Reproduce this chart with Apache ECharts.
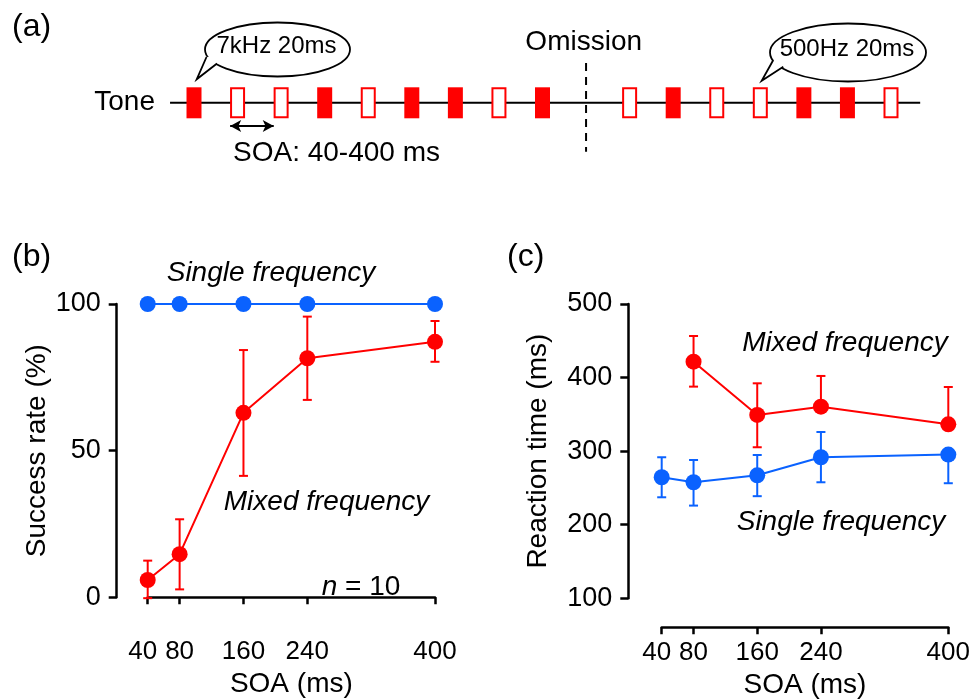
<!DOCTYPE html>
<html>
<head>
<meta charset="utf-8">
<script src="https://cdn.jsdelivr.net/npm/echarts@6/dist/echarts.min.js"></script>
<style>
  html, body { margin: 0; padding: 0; background: #fff; }
  #main { width: 974px; height: 700px; }
</style>
</head>
<body>
<div id="main"></div>
<script>
// panel (a): tone train, 1 = filled, 0 = open, null = omission
const toneKinds = [1, 0, 0, 1, 0, 1, 1, 0, 1, null, 0, 1, 0, 0, 1, 1, 0];
const toneLine = [[-0.55, 0.5], [16.67, 0.5]];
const omissionLine = [[9, 1.78], [9, -1.08]];
const soaArrow = [[0.83, -0.25], [1.83, -0.25]];

// panels (b) and (c)
const soa = [40, 80, 160, 240, 400];
const succTicks = [0, 50, 100];
const rtTicks = [100, 200, 300, 400, 500];

const succSingle = [100, 100, 100, 100, 100];
const succMixed = [5.9, 14.7, 62.9, 81.5, 87.1];
const succMixedLo = [-0.3, 2.7, 41.4, 67.3, 80.3];
const succMixedHi = [12.5, 26.6, 84.3, 95.7, 94.2];

const rtMixed = [null, 421.6, 349.2, 360.5, 336.5];
const rtMixedLo = [null, 387.7, 305.3, null, null];
const rtMixedHi = [null, 456.5, 392.2, 402.2, 387.2];
const rtSingle = [264.5, 257.7, 267.2, 291.7, 295.3];
const rtSingleLo = [237.3, 226, 238.8, 257.7, 256.4];
const rtSingleHi = [291.7, 288, 294.8, 326, null];

const RED = '#ff0000';
const BLUE = '#0a62ff';
const FONT = '"Liberation Sans", Arial, sans-serif';
const FS = 28;   // titles, names
const TS = 26;   // tick labels

var chart = echarts.init(document.getElementById('main'), null, { renderer: 'canvas' });

function errorBars(gi, mean, lo, hi, color) {
  var rows = [];
  soa.forEach(function (x, i) {
    if (mean[i] != null) rows.push([x, mean[i], lo[i], hi[i]]);
  });
  return {
    type: 'custom',
    xAxisIndex: gi, yAxisIndex: gi,
    z: 1, silent: true,
    data: rows.map(function (r) { return [r[0], r[1]]; }),
    renderItem: function (params, api) {
      var r = rows[params.dataIndex];
      var c = api.coord([r[0], r[1]]);
      var kids = [];
      [r[2], r[3]].forEach(function (b) {
        if (b == null) return;
        var p = api.coord([r[0], b]);
        kids.push({ type: 'line', shape: { x1: c[0], y1: c[1], x2: p[0], y2: p[1] },
          style: { stroke: color, lineWidth: 2 } });
        kids.push({ type: 'line', shape: { x1: p[0] - 4.5, y1: p[1], x2: p[0] + 4.5, y2: p[1] },
          style: { stroke: color, lineWidth: 2 } });
      });
      return { type: 'group', children: kids };
    }
  };
}

function lineSeries(gi, vals, color) {
  return {
    type: 'line',
    xAxisIndex: gi, yAxisIndex: gi,
    data: soa.map(function (x, i) { return [x, vals[i]]; }),
    symbol: 'circle', symbolSize: 16,
    lineStyle: { color: color, width: 2 },
    itemStyle: { color: color },
    clip: false, silent: true, z: 3
  };
}

function xAxisCfg(gi) {
  return {
    gridIndex: gi, type: 'value', min: 40, max: 400,
    offset: 29,
    name: 'SOA (ms)', nameLocation: 'middle', nameGap: 44,
    nameTextStyle: { fontFamily: FONT, fontSize: FS, color: '#000' },
    axisLine: { lineStyle: { color: '#000', width: 2.5 } },
    axisTick: { length: 7, lineStyle: { color: '#000', width: 2.5 }, customValues: soa },
    axisLabel: {
      fontFamily: FONT, fontSize: TS, color: '#000', margin: 13, customValues: soa,
      // the first label sits a little left of its tick, as in the figure
      formatter: function (v) { return v === soa[0] ? '{f|' + v + '}' : String(v); },
      rich: { f: { fontFamily: FONT, fontSize: TS, color: '#000', padding: [0, 10, 0, 0] } }
    },
    splitLine: { show: false }
  };
}

function yAxisCfg(gi, min, max, interval, name, gap, off) {
  return {
    gridIndex: gi, type: 'value', min: min, max: max, interval: interval,
    offset: off,
    name: name, nameLocation: 'middle', nameGap: gap, nameRotate: 90,
    nameTextStyle: { fontFamily: FONT, fontSize: FS, color: '#000' },
    axisLine: { show: true, lineStyle: { color: '#000', width: 2.5 } },
    axisTick: { show: true, length: 8, lineStyle: { color: '#000', width: 2.5 } },
    axisLabel: { fontFamily: FONT, fontSize: TS + 1, color: '#000', margin: 16 },
    splitLine: { show: false }
  };
}

function txt(x, y, s, size, opt) {
  opt = opt || {};
  return {
    type: 'text', silent: true, z: 10,
    style: {
      x: x, y: y, text: s,
      font: (opt.italic ? 'italic ' : '') + size + 'px ' + FONT,
      fill: '#000',
      align: opt.align || 'left', textAlign: opt.align || 'left',
      verticalAlign: 'middle', textVerticalAlign: 'middle',
      rich: opt.rich
    }
  };
}

function bubble(cx, cy, rx, ry, b1, tip, b2, label) {
  var inner = [cx - rx * 0.55, cy + ry * 0.2];
  return [
    { type: 'ellipse', silent: true, z: 8, shape: { cx: cx, cy: cy, rx: rx, ry: ry },
      style: { fill: '#fff', stroke: '#000', lineWidth: 1.8 } },
    { type: 'polygon', silent: true, z: 9, shape: { points: [b1, tip, b2, inner] },
      style: { fill: '#fff', stroke: null } },
    { type: 'polyline', silent: true, z: 9, shape: { points: [b1, tip, b2] },
      style: { stroke: '#000', lineWidth: 1.8, fill: null } },
    txt(cx - 1, cy - 3, label, 24, { align: 'center' })
  ];
}

var option = {
  animation: false,
  backgroundColor: '#fff',
  grid: [
    // x: -1..17 (43.56 px per tone slot), y: -1.5..2 (31 px per unit)
    { left: 150.44, right: 39.44, top: 56.3, bottom: 535.2, outerBoundsMode: 'none' },
    { left: 147.7, right: 539, top: 304, bottom: 102.7, outerBoundsMode: 'none' },
    { left: 661.7, right: 25.7, top: 304, bottom: 101.7, outerBoundsMode: 'none' }
  ],
  xAxis: [
    { gridIndex: 0, type: 'value', min: -1, max: 17, show: false },
    xAxisCfg(1),
    xAxisCfg(2)
  ],
  yAxis: [
    { gridIndex: 0, type: 'value', min: -1.5, max: 2, show: false },
    yAxisCfg(1, 0, 100, 50, 'Success rate (%)', 63, 31),
    yAxisCfg(2, 100, 500, 100, 'Reaction time (ms)', 76, 33.4)
  ],
  series: [
    {
      type: 'line', xAxisIndex: 0, yAxisIndex: 0,
      data: toneLine, symbol: 'none', clip: false, silent: true, z: 1,
      lineStyle: { color: '#000', width: 2 },
      markLine: {
        silent: true, symbol: ['arrow', 'arrow'], symbolSize: [9, 11],
        label: { show: false },
        lineStyle: { color: '#000', width: 2, type: 'solid' },
        emphasis: { disabled: true },
        data: [[{ coord: soaArrow[0] }, { coord: soaArrow[1] }]]
      }
    },
    {
      type: 'line', xAxisIndex: 0, yAxisIndex: 0,
      data: omissionLine, symbol: 'none', clip: false, silent: true, z: 1,
      lineStyle: { color: '#000', width: 2, type: [8, 6] }
    },
    {
      type: 'custom', xAxisIndex: 0, yAxisIndex: 0, silent: true, z: 2,
      data: toneKinds.map(function (k, i) { return [i, k]; }).filter(function (d) { return d[1] !== null; }),
      renderItem: function (params, api) {
        var i = api.value(0), k = api.value(1);
        var p0 = api.coord([i, 0]), p1 = api.coord([i, 1]);
        var w = 15, h = p0[1] - p1[1];
        if (k === 1) {
          return { type: 'rect', shape: { x: p0[0] - w / 2, y: p1[1], width: w, height: h },
            style: { fill: RED } };
        }
        return { type: 'rect', shape: { x: p0[0] - w / 2 + 1, y: p1[1] + 1, width: w - 2, height: h - 2 },
          style: { fill: '#fff', stroke: RED, lineWidth: 2 } };
      }
    },
    errorBars(1, succMixed, succMixedLo, succMixedHi, RED),
    lineSeries(1, succSingle, BLUE),
    lineSeries(1, succMixed, RED),
    errorBars(2, rtMixed, rtMixedLo, rtMixedHi, RED),
    errorBars(2, rtSingle, rtSingleLo, rtSingleHi, BLUE),
    lineSeries(2, rtMixed, RED),
    lineSeries(2, rtSingle, BLUE)
  ],
  graphic: [
    txt(12, 27, '(a)', 32),
    txt(155, 102, 'Tone', FS, { align: 'right' }),
    txt(583.7, 42, 'Omission', FS, { align: 'center' }),
    txt(233, 153, 'SOA: 40-400 ms', FS),
    txt(12, 257, '(b)', 32),
    txt(507, 257, '(c)', 32),
    txt(271, 273, 'Single frequency', 28, { align: 'center', italic: true }),
    txt(326.5, 502, 'Mixed frequency', 28, { align: 'center', italic: true }),
    txt(321.7, 587, '{i|n} = 10', FS, { rich: { i: { fontStyle: 'italic', fontSize: FS, fontFamily: FONT } } }),
    txt(845, 343, 'Mixed frequency', 28, { align: 'center', italic: true }),
    txt(841, 522, 'Single frequency', 28, { align: 'center', italic: true })
  ].concat(
    bubble(277.5, 49.5, 72.5, 27, [206.5, 57], [196.7, 79.3], [217, 63.5], '7kHz 20ms'),
    bubble(848, 52.5, 78, 29, [773.3, 60], [761.7, 80.7], [783.3, 66.7], '500Hz 20ms')
  )
};

chart.setOption(option);
</script>
</body>
</html>
